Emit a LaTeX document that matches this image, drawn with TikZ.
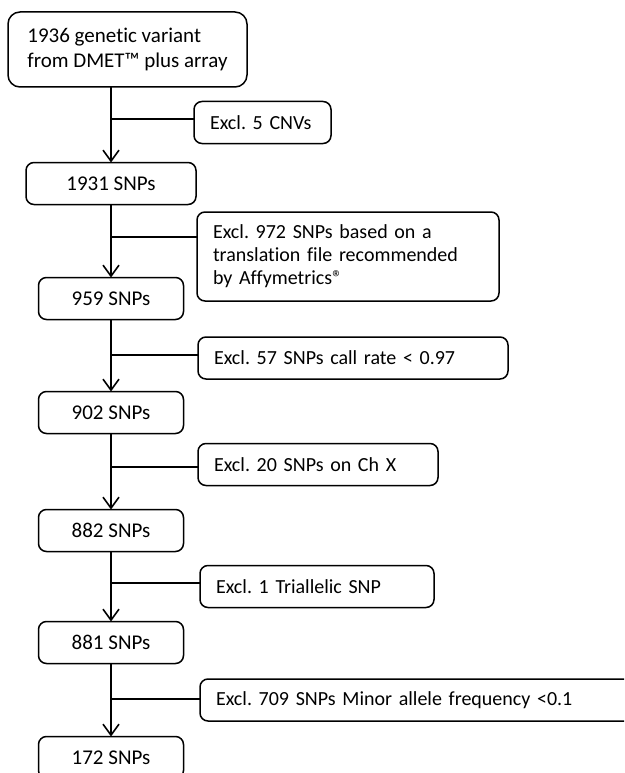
\documentclass[tikz,border=0pt]{standalone}
\usepackage{fontspec}
\setmainfont{Carlito}[Ligatures=NoCommon]
\usetikzlibrary{positioning,arrows.meta}

\begin{document}
\begin{tikzpicture}[
  x = 1pt,
  y = -1pt,
  font = \fontsize{21}{24}\selectfont\frenchspacing,
  stage/.style = {
    draw,
    rectangle,
    rounded corners = 8pt,
    line width = 1.5pt,
    outer sep = 0pt,
    minimum width = 145pt,
    minimum height = 42pt,
  },
  excl/.style = {
    stage,
    anchor = west,
    align = left,
    inner xsep = 16pt,
    minimum width = 0pt,
    font = \fontsize{20}{23}\selectfont\frenchspacing,
  },
  link/.style = {
    line width = 1.6pt,
  },
  >={Straight Barb[length=11pt,width=16pt]},
]

  \useasboundingbox (0,0) rectangle (624,773);
  \clip (0,0) rectangle (624,773);

  \node[stage,rounded corners=12pt,align=left,minimum width=239pt,minimum height=75pt,font=\fontsize{21}{25}\selectfont\frenchspacing] (start) at (127.5,49.5) {1936 genetic variant\\from DMET™ plus array};

  \node[stage,minimum width=170pt] (s1931) at (111,183.5) {1931 SNPs};
  \node[stage] (s959) [below=73pt of s1931] {959 SNPs};
  \node[stage] (s902) [below=72pt of s959] {902 SNPs};
  \node[stage] (s882) [below=76pt of s902] {882 SNPs};
  \node[stage] (s881) [below=70pt of s882] {881 SNPs};
  \node[stage] (s172) [below=73pt of s881] {172 SNPs};

  %
  \node[excl,text width=105pt] (e1) at (194,122.5) {Excl. 5 CNVs};
  \node[excl,text width=270pt,minimum height=89pt] (e2) at (197,256.5) {Excl. 972 SNPs based on a\\translation file recommended\\by Affymetrics®};
  \node[excl,text width=278pt] (e3) at (198,358) {Excl. 57 SNPs call rate < 0.97};
  \node[excl,text width=208pt] (e4) at (198,464.5) {Excl. 20 SNPs on Ch X};
  \node[excl,text width=202pt] (e5) at (200,586.5) {Excl. 1 Triallelic SNP};
  \node[excl,text width=430pt] (e6) at (200,700) {Excl. 709 SNPs Minor allele frequency <0.1};

  \coordinate (j1) at (111,119);
  \coordinate (j2) at (111,237);
  \coordinate (j3) at (111,355);
  \coordinate (j4) at (111,467);
  \coordinate (j5) at (111,583);
  \coordinate (j6) at (111,699);

  \draw[link,->] (start.south -| s1931.north) -- (s1931.north);
  \foreach \a/\b in {s1931/s959,s959/s902,s902/s882,s882/s881,s881/s172}
    \draw[link,->] (\a.south) -- (\b.north);

  \foreach \j/\e in {j1/e1,j2/e2,j3/e3,j4/e4,j5/e5,j6/e6}
    \draw[link] (\j) -- (\j -| \e.west);

\end{tikzpicture}
\end{document}
